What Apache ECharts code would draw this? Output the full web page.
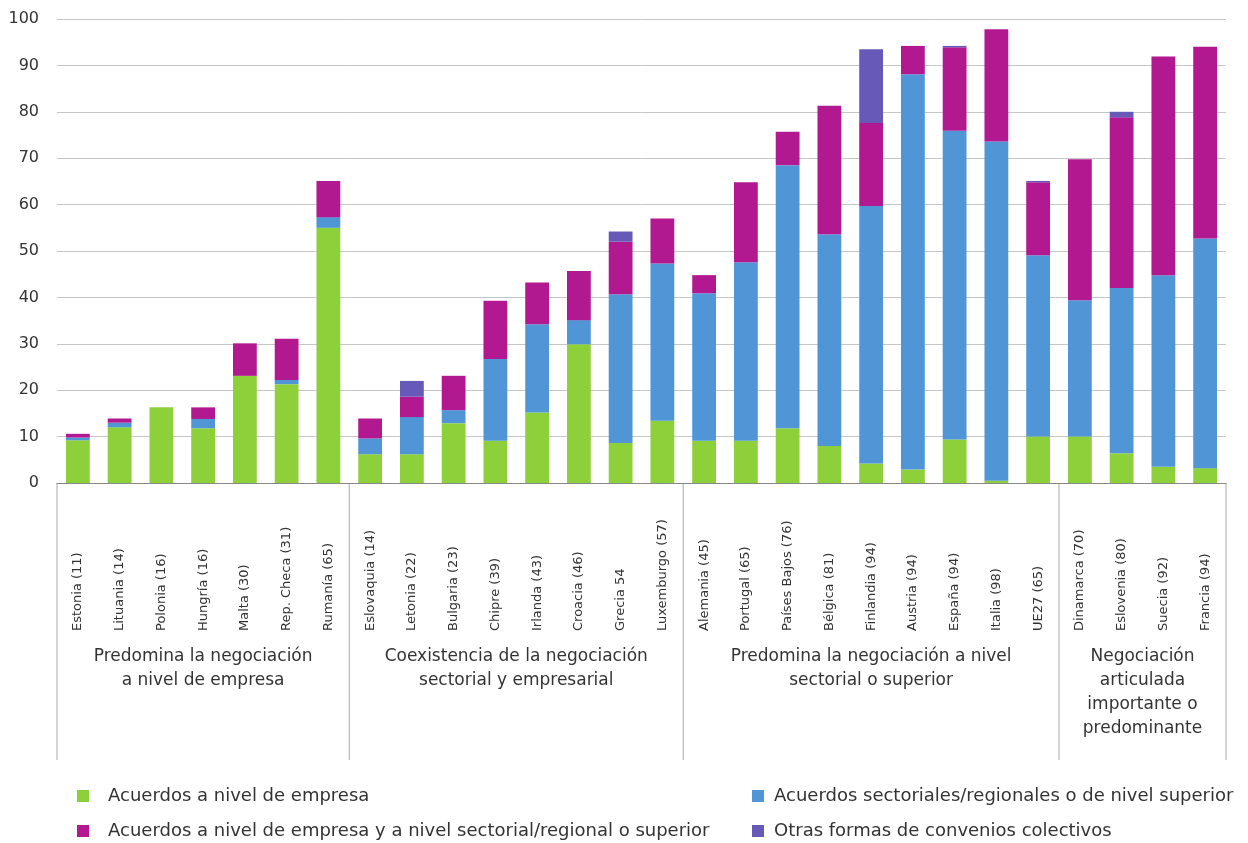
<!DOCTYPE html>
<html>
<head>
<meta charset="utf-8">
<script src="https://cdn.jsdelivr.net/npm/echarts@6/dist/echarts.min.js"></script>
<style>
  html, body { margin: 0; padding: 0; background: #fff; }
  #chart { width: 1248px; height: 843px; }
</style>
</head>
<body>
<div id="chart"></div>
<script>
const categories = ['Estonia (11)', 'Lituania (14)', 'Polonia (16)', 'Hungría (16)', 'Malta (30)', 'Rep. Checa (31)', 'Rumanía (65)',
  'Eslovaquia (14)', 'Letonia (22)', 'Bulgaria (23)', 'Chipre (39)', 'Irlanda (43)', 'Croacia (46)', 'Grecia 54', 'Luxemburgo (57)',
  'Alemania (45)', 'Portugal (65)', 'Países Bajos (76)', 'Bélgica (81)', 'Finlandia (94)', 'Austria (94)', 'España (94)', 'Italia (98)', 'UE27 (65)',
  'Dinamarca (70)', 'Eslovenia (80)', 'Suecia (92)', 'Francia (94)'];

const empresa    = [9.2, 12, 16.3, 11.8, 23.1, 21.3, 55, 6.2, 6.2, 12.9, 9.1, 15.2, 29.9, 8.6, 13.4, 9.1, 9.1, 11.8, 8, 4.2, 2.9, 9.4, 0.5, 10, 10, 6.4, 3.5, 3.2];
const sectorial  = [0.6, 1, 0, 2, 0, 0.9, 2.3, 3.4, 8, 2.8, 17.6, 19, 5.2, 32.1, 33.9, 31.8, 38.5, 56.7, 45.6, 55.5, 85.2, 66.5, 73.1, 39.1, 29.4, 35.6, 41.3, 49.5];
const mixto      = [0.8, 0.9, 0, 2.5, 7, 8.9, 7.8, 4.3, 4.4, 7.4, 12.6, 9, 10.6, 11.3, 9.7, 3.9, 17.2, 7.2, 27.7, 17.9, 6.1, 18, 24.2, 15.7, 30.4, 36.8, 47.1, 41.3];
const otras      = [0, 0, 0, 0, 0, 0, 0, 0, 3.4, 0, 0, 0, 0, 2.2, 0, 0, 0, 0, 0, 15.9, 0, 0.3, 0, 0.3, 0, 1.2, 0, 0];

const groupNames = ['Predomina la negociación\na nivel de empresa', 'Coexistencia de la negociación\nsectorial y empresarial',
  'Predomina la negociación a nivel\nsectorial o superior', 'Negociación\narticulada\nimportante o\npredominante'];
const groupSizes = [7, 8, 9, 4];

const seriesNames = ['Acuerdos a nivel de empresa', 'Acuerdos sectoriales/regionales o de nivel superior',
  'Acuerdos a nivel de empresa y a nivel sectorial/regional o superior', 'Otras formas de convenios colectivos'];
const colors = ['#8dd03a', '#5096d7', '#b2188f', '#6659b7'];

const FONT = 'DejaVu Sans';
const chart = echarts.init(document.getElementById('chart'));

const mkSeries = (name, data, color) => ({
  name, type: 'bar', stack: 'total', data, barWidth: '57%',
  itemStyle: { color }, emphasis: { disabled: true }
});

const legendText = { fontSize: 18, color: '#333', fontFamily: FONT, padding: [0, 0, 0, 14] };

chart.setOption({
  animation: false,
  textStyle: { fontFamily: FONT },
  grid: { left: 57, right: 22, top: 19, bottom: 360 },
  legend: [
    { data: [seriesNames[0], seriesNames[2]], orient: 'vertical', left: 72, top: 782, height: 100, itemGap: 17,
      itemWidth: 12, itemHeight: 12, icon: 'rect', textStyle: legendText },
    { data: [seriesNames[1], seriesNames[3]], orient: 'vertical', left: 747, top: 782, height: 100, itemGap: 17,
      itemWidth: 12, itemHeight: 12, icon: 'rect', textStyle: { ...legendText, padding: [0, 0, 0, 5] } }
  ],
  xAxis: {
    type: 'category', data: categories,
    axisLine: { lineStyle: { color: '#888' } },
    axisTick: { show: false },
    axisLabel: { interval: 0, rotate: 90, align: 'left', verticalAlign: 'middle', margin: 148,
      fontSize: 13, color: '#333', fontFamily: FONT }
  },
  yAxis: {
    type: 'value', min: 0, max: 100, interval: 10,
    axisLine: { show: false }, axisTick: { show: false },
    axisLabel: { fontSize: 16, color: '#333', margin: 18, fontFamily: FONT },
    splitLine: { lineStyle: { color: '#c6c6c6' } }
  },
  series: [
    mkSeries(seriesNames[0], empresa, colors[0]),
    mkSeries(seriesNames[1], sectorial, colors[1]),
    mkSeries(seriesNames[2], mixto, colors[2]),
    mkSeries(seriesNames[3], otras, colors[3])
  ]
});

// group separators and group titles below the axis
const px = i => chart.convertToPixel({ xAxisIndex: 0 }, i);
const y0 = chart.convertToPixel({ yAxisIndex: 0 }, 0);
const bw = px(1) - px(0);
const graphics = [];
let start = 0;
groupSizes.forEach((n, g) => {
  const left = px(start) - bw / 2;
  const right = px(start + n - 1) + bw / 2;
  graphics.push({ type: 'line', shape: { x1: left, y1: y0, x2: left, y2: 760 }, style: { stroke: '#aaa', lineWidth: 1 } });
  if (g === groupSizes.length - 1) {
    graphics.push({ type: 'line', shape: { x1: right, y1: y0, x2: right, y2: 760 }, style: { stroke: '#aaa', lineWidth: 1 } });
  }
  graphics.push({ type: 'text', x: (left + right) / 2, y: 645,
    style: { text: groupNames[g], textAlign: 'center', textVerticalAlign: 'top', fontSize: 17, lineHeight: 24,
      fill: '#333', fontFamily: FONT } });
  start += n;
});
chart.setOption({ graphic: graphics });
</script>
</body>
</html>
